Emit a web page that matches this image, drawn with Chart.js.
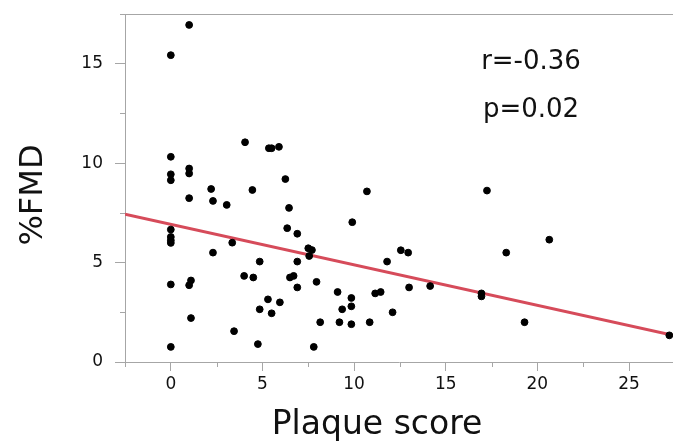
<!DOCTYPE html>
<html>
<head>
<meta charset="utf-8">
<script src="https://cdn.jsdelivr.net/npm/chart.js@4.4.1/dist/chart.umd.min.js"></script>
<style>
  html, body { margin: 0; padding: 0; background: #fff; }
</style>
</head>
<body>
<canvas id="fmd-chart" width="673" height="441"></canvas>
<script>
// values
const plaqueScore = [
  0, 0, 0, 0, 0, 0, 0, 0, 0, 0,
  1.0, 1.0, 1.0, 1.0, 1.1, 1.0, 1.1,
  2.2, 2.3, 2.3, 3.05, 3.35, 3.45, 4.05, 4.0, 4.45, 4.5, 4.75, 4.85, 4.85,
  5.3, 5.35, 5.5, 5.5, 5.9, 5.95, 6.25, 6.45, 6.35, 6.5, 6.7, 6.9, 6.9, 6.9,
  7.5, 7.7, 7.55, 7.95, 7.8, 8.15, 9.1, 9.2, 9.35, 9.85, 9.85, 9.85, 9.9,
  10.7, 10.85, 11.15, 11.45, 11.8, 12.1, 12.55, 12.95, 13.0, 14.15,
  16.95, 16.95, 17.25, 18.3, 19.3, 20.65, 27.2
];
const fmdPercent = [
  15.43, 10.32, 9.44, 9.14, 6.66, 6.29, 6.12, 5.99, 3.9, 0.76,
  16.95, 9.73, 9.48, 8.24, 4.1, 3.86, 2.21,
  8.7, 8.1, 5.5, 7.9, 6.0, 1.55, 11.05, 4.33, 8.65, 4.25, 0.9, 5.05, 2.65,
  3.15, 10.75, 10.75, 2.45, 10.82, 3.0, 9.2, 7.75, 6.73, 4.25, 4.33, 6.45, 5.05, 3.75,
  5.72, 5.63, 5.33, 4.03, 0.76, 2.0, 3.52, 2.0, 2.65, 3.22, 2.8, 1.9, 7.03,
  8.58, 2.0, 3.45, 3.52, 5.05, 2.5, 5.62, 5.5, 3.75, 3.82,
  3.45, 3.3, 8.62, 5.5, 2.0, 6.15, 1.34
];

// ends of the fitted line
const fitLineX = [-2.5, 27.4];
const fitLineY = [7.43, 1.34];

const xTickValues = [-2.5, 0, 2.5, 5, 7.5, 10, 12.5, 15, 17.5, 20, 22.5, 25];
const yTickValues = [0, 2.5, 5, 7.5, 10, 12.5, 15, 17.5];
const statLines = ["r=-0.36", "p=0.02"];

const axisGray = "#a6a6a6";
const textColor = "#111";

const points = plaqueScore.map((x, i) => ({ x: x, y: fmdPercent[i] }));
const fitPoints = fitLineX.map((x, i) => ({ x: x, y: fitLineY[i] }));

const isMajor = (v) => v % 5 === 0;

// frame line on top, short minor ticks, axis titles and r / p text
const extrasPlugin = {
  id: "extras",
  afterDraw(chart) {
    const { ctx, chartArea, scales } = chart;
    ctx.save();
    ctx.strokeStyle = axisGray;
    ctx.lineWidth = 1;
    ctx.beginPath();
    ctx.moveTo(chartArea.left, chartArea.top + 0.5);
    ctx.lineTo(chartArea.right, chartArea.top + 0.5);
    xTickValues.filter((v) => !isMajor(v)).forEach((v) => {
      const px = Math.round(scales.x.getPixelForValue(v)) + 0.5;
      ctx.moveTo(px, chartArea.bottom);
      ctx.lineTo(px, chartArea.bottom + 5);
    });
    yTickValues.filter((v) => !isMajor(v)).forEach((v) => {
      const py = Math.round(scales.y.getPixelForValue(v)) + 0.5;
      ctx.moveTo(chartArea.left, py);
      ctx.lineTo(chartArea.left - 5, py);
    });
    ctx.stroke();

    ctx.fillStyle = textColor;
    ctx.font = "33px 'DejaVu Sans'";
    ctx.textAlign = "center";
    ctx.textBaseline = "alphabetic";
    ctx.fillText("Plaque score", 377, 434);

    ctx.save();
    ctx.translate(42, 195);
    ctx.rotate(-Math.PI / 2);
    ctx.font = "32px 'DejaVu Sans'";
    ctx.fillText("%FMD", 0, 0);
    ctx.restore();

    ctx.font = "26px 'DejaVu Sans'";
    ctx.fillText(statLines[0], 531, 69);
    ctx.fillText(statLines[1], 531, 117);
    ctx.restore();
  },
};

const ctx = document.getElementById("fmd-chart").getContext("2d");
new Chart(ctx, {
  type: "scatter",
  data: {
    datasets: [
      {
        label: "Subjects",
        data: points,
        backgroundColor: "#000",
        borderColor: "#000",
        pointRadius: 3.4,
        pointHoverRadius: 3.4,
      },
      {
        type: "line",
        label: "Fit",
        data: fitPoints,
        borderColor: "#d64b5a",
        borderWidth: 3,
        pointRadius: 0,
        fill: false,
      },
    ],
  },
  options: {
    responsive: false,
    animation: false,
    layout: { autoPadding: false, padding: { top: 14, right: 0, left: 0, bottom: 0 } },
    plugins: {
      legend: { display: false },
      tooltip: { enabled: false },
    },
    scales: {
      x: {
        type: "linear",
        min: -2.5,
        max: 27.4,
        afterBuildTicks: (scale) => {
          scale.ticks = xTickValues.map((v) => ({ value: v }));
        },
        afterFit: (scale) => {
          scale.height = 79;
          scale.paddingLeft = 0;
          scale.paddingRight = 0;
        },
        ticks: {
          color: textColor,
          padding: 3,
          maxRotation: 0,
          autoSkip: false,
          font: { family: "DejaVu Sans", size: 17 },
          callback: (v) => (isMajor(v) ? String(v) : ""),
        },
        grid: {
          display: true,
          drawOnChartArea: false,
          drawTicks: true,
          tickLength: 9,
          tickColor: (c) => (c.tick && isMajor(c.tick.value) ? axisGray : "rgba(0,0,0,0)"),
        },
        border: { display: true, color: axisGray, width: 1 },
      },
      y: {
        type: "linear",
        min: 0,
        max: 17.5,
        afterBuildTicks: (scale) => {
          scale.ticks = yTickValues.map((v) => ({ value: v }));
        },
        afterFit: (scale) => {
          scale.width = 125;
          scale.paddingTop = 0;
          scale.paddingBottom = 0;
        },
        ticks: {
          color: textColor,
          padding: 12,
          autoSkip: false,
          font: { family: "DejaVu Sans", size: 17 },
          callback: (v) => (isMajor(v) ? String(v) : ""),
        },
        grid: {
          display: true,
          drawOnChartArea: false,
          drawTicks: true,
          tickLength: 10,
          tickColor: (c) => (c.tick && isMajor(c.tick.value) ? axisGray : "rgba(0,0,0,0)"),
        },
        border: { display: true, color: axisGray, width: 1 },
      },
    },
  },
  plugins: [extrasPlugin],
});
</script>
</body>
</html>
